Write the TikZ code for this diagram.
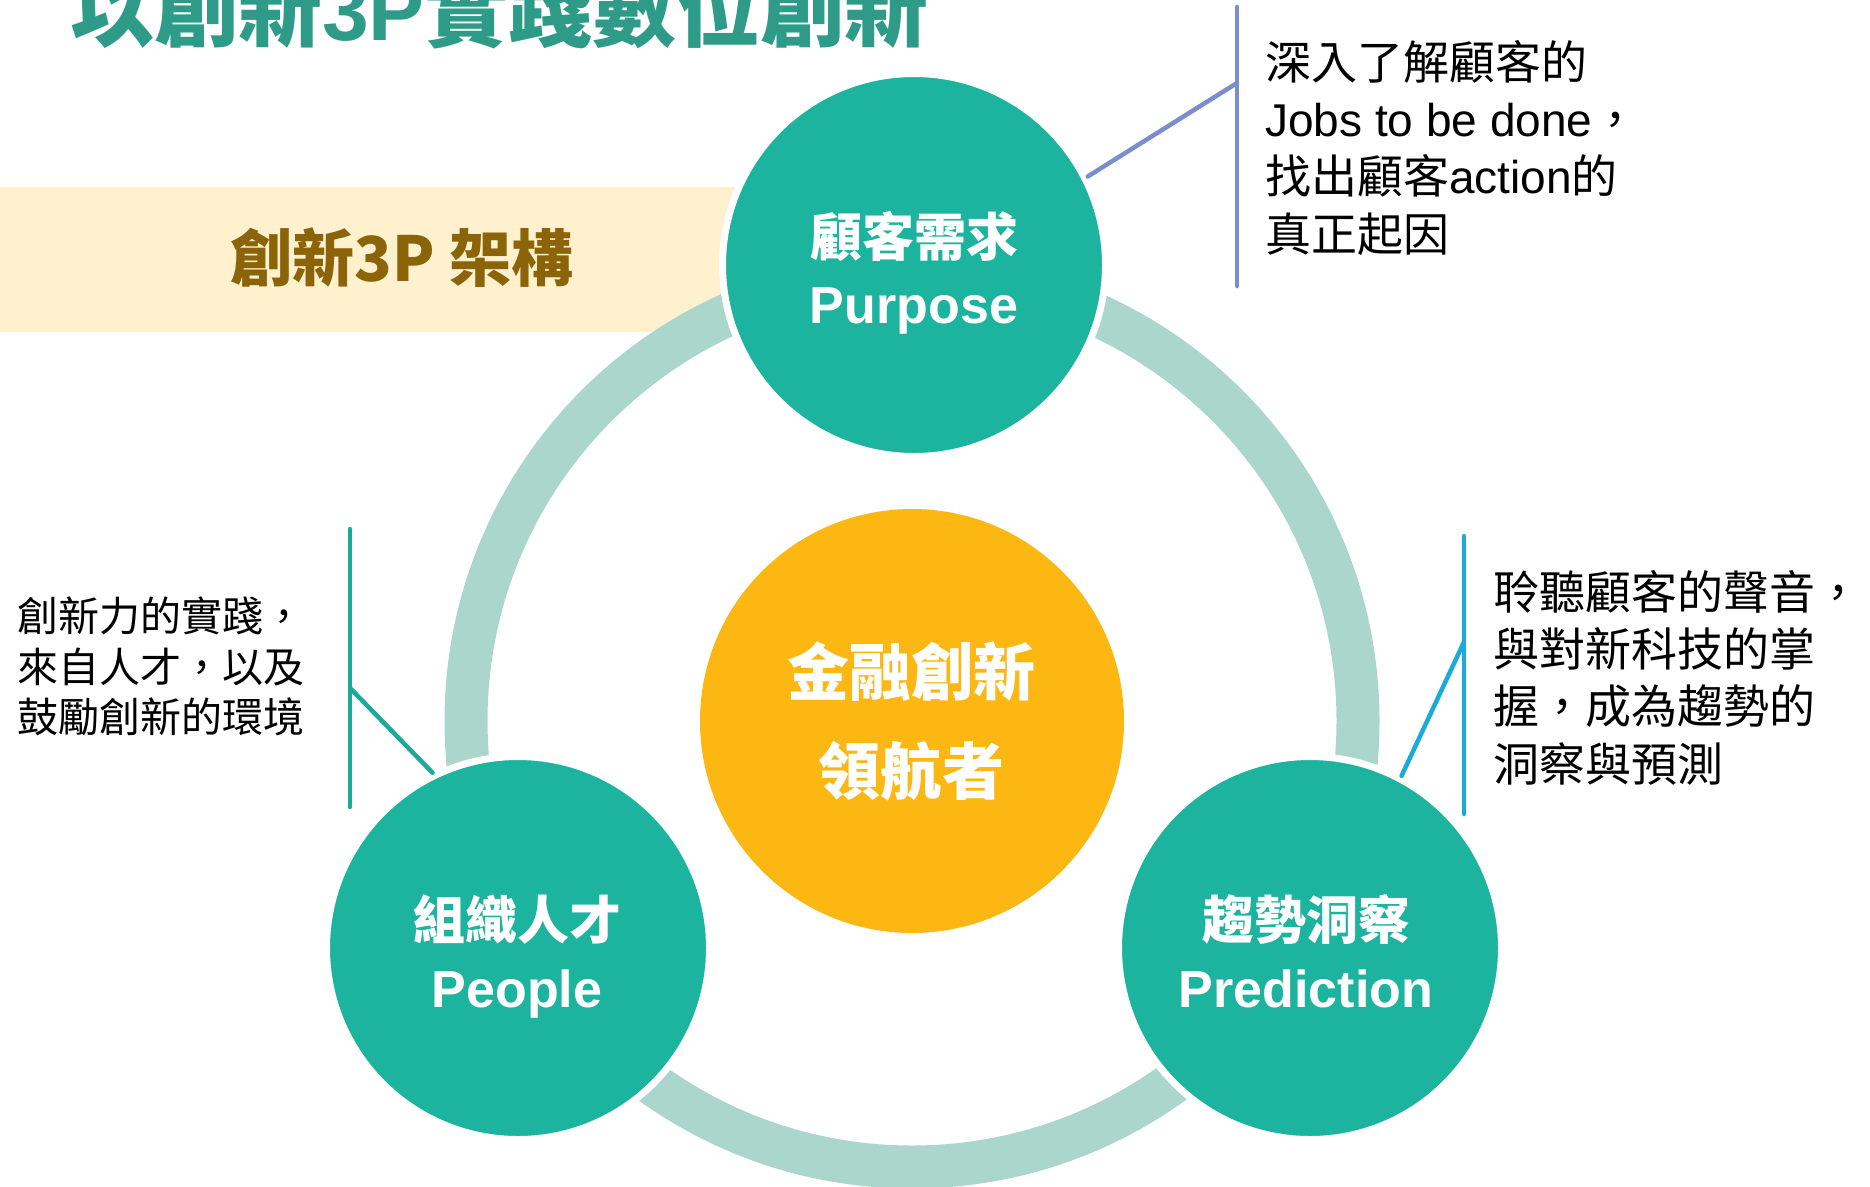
\documentclass[tikz,border=0pt]{standalone}
\usepackage{fontspec}
\setmainfont{Liberation Sans}
\newfontfamily\cjk{Noto Sans CJK TC}

\definecolor{hubteal}{RGB}{28,179,159}
\definecolor{ringteal}{RGB}{171,214,204}
\definecolor{coreorange}{RGB}{252,183,18}
\definecolor{bannercream}{RGB}{255,240,206}
\definecolor{bannergold}{RGB}{139,99,8}
\definecolor{titleteal}{RGB}{46,155,137}
\definecolor{lineblue}{RGB}{123,141,204}
\definecolor{linesky}{RGB}{27,171,219}
\definecolor{lineteal}{RGB}{27,170,154}

\begin{document}
\begin{tikzpicture}[x=1pt,y=-1pt,
    hub/.style={
% The shape:
circle,
% The size:
minimum size=383pt,
inner sep=0pt,
% The border:
fill=hubteal, draw=white, line width=7pt,
},
    core/.style={
% The shape:
circle,
% The size:
minimum size=424pt,
inner sep=0pt,
fill=coreorange,
},
    cnlabel/.style={anchor=base, inner sep=0pt, text=white, font={\cjk\bfseries\fontsize{52}{52}\selectfont}},
    enlabel/.style={anchor=base, inner sep=0pt, text=white, font={\bfseries\fontsize{52}{52}\selectfont}},
    note/.style={anchor=north west, align=left, inner sep=0pt, font={\cjk\fontsize{46}{57.3}\selectfont}},
    callout/.style={line width=4.5pt, line cap=round},
]
  \fill[white] (0,0) rectangle (1870,1186);
  \useasboundingbox (0,0) rectangle (1870,1186);

  \node[anchor=base west, inner sep=0pt, text=titleteal,
        font={\cjk\bfseries\fontsize{84}{84}\selectfont}] (title) at (70,40) {以創新{\rmfamily\bfseries 3P}實踐數位創新};

  \fill[bannercream] (0,187) rectangle (735,332);
  \node[anchor=base, inner sep=0pt, text=bannergold,
        font={\cjk\bfseries\fontsize{62}{62}\selectfont}] (frame) at (402,281) {創新3P 架構};

  \draw[ringteal, line width=43pt] (912,721) circle (446);

  \node[core]                          (core)    at (912,721)  {};
  \node[hub]                           (purpose) at (914,265)  {};
  \node[hub]                           (people)  at (518,948)  {};
  \node[hub]                           (predict) at (1310,948) {};

  \node[cnlabel, font={\cjk\bfseries\fontsize{62}{62}\selectfont}] (core cn)  at (911,695) {金融創新};
  \node[cnlabel, font={\cjk\bfseries\fontsize{62}{62}\selectfont}] (core cn2) at (911,794) {領航者};
  \node[cnlabel] (purpose cn) at (914,256)  {顧客需求};
  \node[enlabel] (purpose en) at (914,323)  {Purpose};
  \node[cnlabel] (people cn)  at (517,939)  {組織人才};
  \node[enlabel] (people en)  at (517,1007) {People};
  \node[cnlabel] (predict cn) at (1306,939) {趨勢洞察};
  \node[enlabel] (predict en) at (1306,1007) {Prediction};

  % callouts
  \coordinate (purpose top)  at (1237,7);
  \coordinate (purpose bot)  at (1237,286);
  \coordinate (purpose join) at (1237,83);
  \draw[callout, lineblue] (purpose top) -- (purpose bot);
  \draw[callout, lineblue] (purpose join) -- (purpose.27);
  \node[note] (purpose note) at (1265,40)
    {深入了解顧客的\\{\rmfamily Jobs to be done}，\\找出顧客{\rmfamily action}的\\真正起因};

  \coordinate (predict top)  at (1464,536);
  \coordinate (predict bot)  at (1464,814);
  \coordinate (predict join) at (1464,642);
  \draw[callout, linesky] (predict top) -- (predict bot);
  \draw[callout, linesky] (predict join) -- (predict.62);
  \node[note] (predict note) at (1493,570)
    {聆聽顧客的聲音，\\與對新科技的掌\\握，成為趨勢的\\洞察與預測};

  \coordinate (people top)  at (350,529);
  \coordinate (people bot)  at (350,807);
  \coordinate (people join) at (350,688);
  \draw[callout, lineteal] (people top) -- (people bot);
  \draw[callout, lineteal] (people join) -- (people.116);
  \node[note, font={\cjk\fontsize{41}{50.5}\selectfont}] (people note) at (17,597)
    {創新力的實踐，\\來自人才，以及\\鼓勵創新的環境};
\end{tikzpicture}
\end{document}
